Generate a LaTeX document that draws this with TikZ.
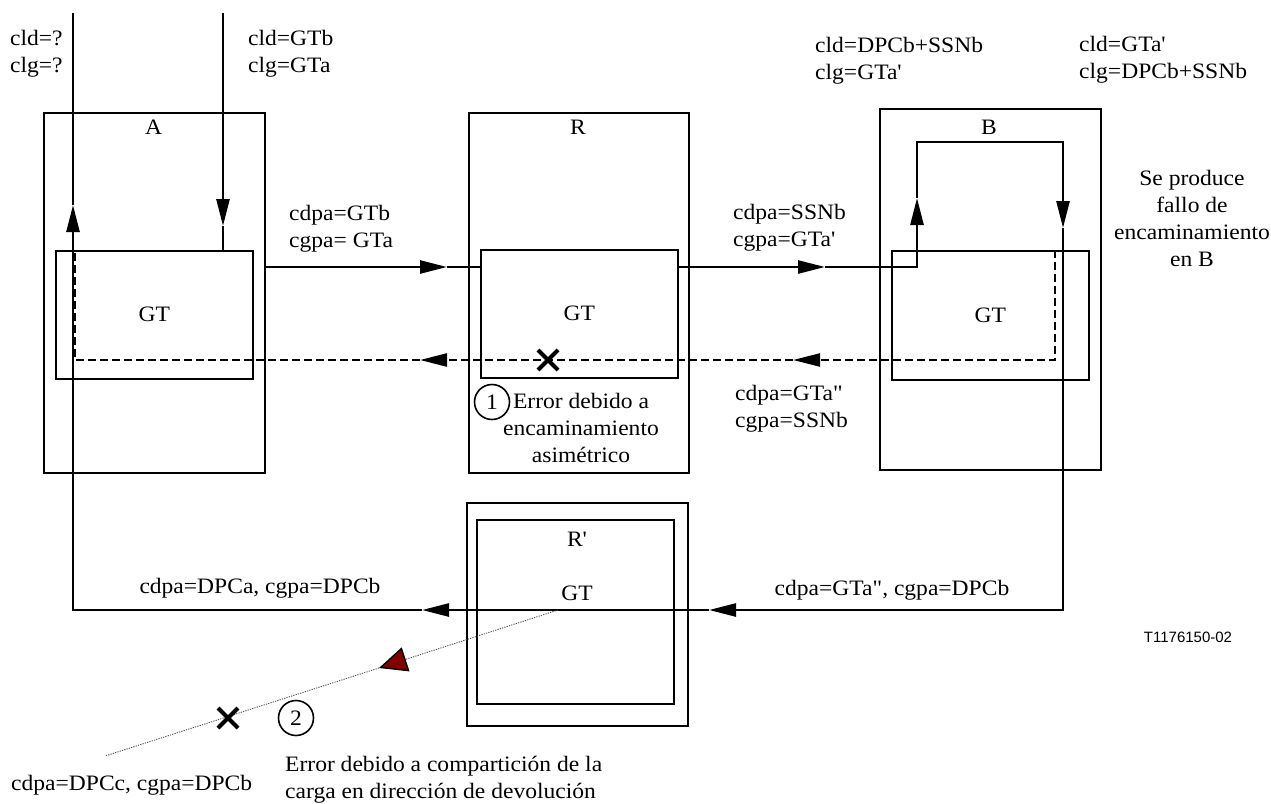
\documentclass[tikz,border=0pt]{standalone}
\usepackage{fontspec}
\setmainfont{Liberation Serif}[Ligatures=TeXOff, FakeStretch=1.07]
\newfontfamily\labelsans{Liberation Sans}
\usetikzlibrary{arrows.meta}
\definecolor{maroon}{RGB}{128,0,0}
\begin{document}
\begin{tikzpicture}[x=1pt,y=-1pt,
  every node/.style={font=\fontsize{22}{27}\selectfont},
  frame/.style={draw, line width=1.6pt, inner sep=0pt, anchor=north west},
  conn/.style={line width=2.6pt},
  ret/.style={line width=2.4pt, dash pattern=on 8pt off 4pt},
  tipL/.style={-{Triangle[length=27pt,width=13pt]}},
  dotl/.style={line width=0.9pt, dash pattern=on 1.2pt off 1.2pt, black!70},
  txt/.style={inner sep=0pt, align=left, anchor=west},
  xmark/.style={line width=4pt},
  num/.style={draw, circle, line width=1.6pt, minimum size=35pt, inner sep=0pt}]
\useasboundingbox (0,0) rectangle (1271,803);

% boxes
\node[frame, minimum width=221pt, minimum height=360pt] (A) at (43,112) {};
\node[frame, minimum width=197pt, minimum height=128pt] (AGT) at (55,250) {GT};
\node[frame, minimum width=220pt, minimum height=360pt] (R) at (468,112) {};
\node[frame, minimum width=197pt, minimum height=128pt] (RGT) at (480,249) {GT};
\node[frame, minimum width=221pt, minimum height=361pt] (B) at (879,108) {};
\node[frame, minimum width=197pt, minimum height=129pt] (BGT) at (891,250) {GT};
\node[frame, minimum width=221pt, minimum height=223pt] (Rp) at (466,502) {};
\node[frame, minimum width=197pt, minimum height=184pt] (RpIn) at (476,519) {};

\node (labA) at (153.5,127) {A};
\node (labR) at (578,127) {R};
\node (labB) at (989,127) {B};
\node (labRp) at (577,539) {R'};
\node (labRpGT) at (577,593) {GT};

% coordinates
\coordinate (aTopL) at (73,13);
\coordinate (aTopR) at (223,13);
\coordinate (yL) at (0,267);
\coordinate (yB) at (0,610);
\coordinate (yD) at (0,360);
\coordinate (bL) at (917,142);
\coordinate (bR) at (1063,142);
\coordinate (t1) at (223,226);
\coordinate (t2) at (447,267);
\coordinate (t3) at (825,267);
\coordinate (t4) at (917,198);
\coordinate (t5) at (1063,228);
\coordinate (t6) at (709,610);
\coordinate (t7) at (422,610);
\coordinate (t8) at (73,205);
\coordinate (d1) at (793,360);
\coordinate (d2) at (420,360);
\coordinate (dB) at (1055,0);
\coordinate (dA) at (75,0);

% solid connectors
\draw[conn,tipL] (aTopR) -- (t1);
\draw[conn] (t1) -- (t1 |- AGT.north);
\draw[conn,tipL] (A.east |- yL) -- (t2);
\draw[conn] (t2) -- (RGT.west |- yL);
\draw[conn,tipL] (RGT.east |- yL) -- (t3);
\draw[conn,tipL] (t3) -- (bL |- yL) -- (t4);
\draw[conn,tipL] (t4) -- (bL) -- (bR) -- (t5);
\draw[conn,tipL] (t5) -- (bR |- yB) -- (t6);
\draw[conn,tipL] (t6) -- (t7);
\draw[conn,tipL] (t7) -- (aTopL |- yB) -- (t8);
\draw[conn] (t8) -- (aTopL);

% dashed return
\draw[ret,tipL] (dB |- BGT.north) -- (dB |- yD) -- (d1);
\draw[ret,tipL] (d1) -- (d2);
\draw[ret] (d2) -- (dA |- yD) -- (dA |- AGT.north);

% dotted load-sharing path
\coordinate (rpS) at (558,610);
\coordinate (t9) at (379,668);
\coordinate (rpE) at (105,756);
\draw[dotl, -{Triangle[length=28pt,width=25pt,fill=maroon,color=black,line width=1.4pt]}] (rpS) -- (t9);
\draw[dotl] (t9) -- (rpE);

% crosses
\coordinate (x1) at (548,360);
\coordinate (x2) at (228,718);
\draw[xmark] (x1) +(-10,-10) -- +(10,10) (x1) +(-10,10) -- +(10,-10);
\draw[xmark] (x2) +(-10,-10) -- +(10,10) (x2) +(-10,10) -- +(10,-10);

% numbered circles
\node[num] (c1) at (492,402) {1};
\node[num] (c2) at (296,718) {2};

% texts
\node[txt] (tq) at (10,53.5) {cld=?\\clg=?};
\node[txt] (tgtb) at (248,53.5) {cld=GTb\\clg=GTa};
\node[txt] (tdpc) at (815,61) {cld=DPCb+SSNb\\clg=GTa'};
\node[txt] (tgta) at (1079,60) {cld=GTa'\\clg=DPCb+SSNb};
\node[txt] (tab) at (289,229) {cdpa=GTb\\cgpa= GTa};
\node[txt] (trb) at (733,228) {cdpa=SSNb\\cgpa=GTa'};
\node[txt] (tbr) at (735,409) {cdpa=GTa"\\cgpa=SSNb};
\node[align=center, inner sep=0pt] (terr1) at (581,428) {Error debido a\\encaminamiento\\asimétrico};
\node[align=center, inner sep=0pt] (tfallo) at (1192,218) {Se produce\\fallo de\\encaminamiento\\en B};
\node[inner sep=0pt] (tlow1) at (260,588) {cdpa=DPCa, cgpa=DPCb};
\node[inner sep=0pt] (tlow2) at (892,590) {cdpa=GTa", cgpa=DPCb};
\node[txt] (tlow3) at (11,785) {cdpa=DPCc, cgpa=DPCb};
\node[txt] (terr2) at (285,779.5) {Error debido a compartición de la\\carga en dirección de devolución};
\node[font=\labelsans\fontsize{15}{18}\selectfont, inner sep=0pt] (tid) at (1188,637) {T1176150-02};
\end{tikzpicture}
\end{document}
